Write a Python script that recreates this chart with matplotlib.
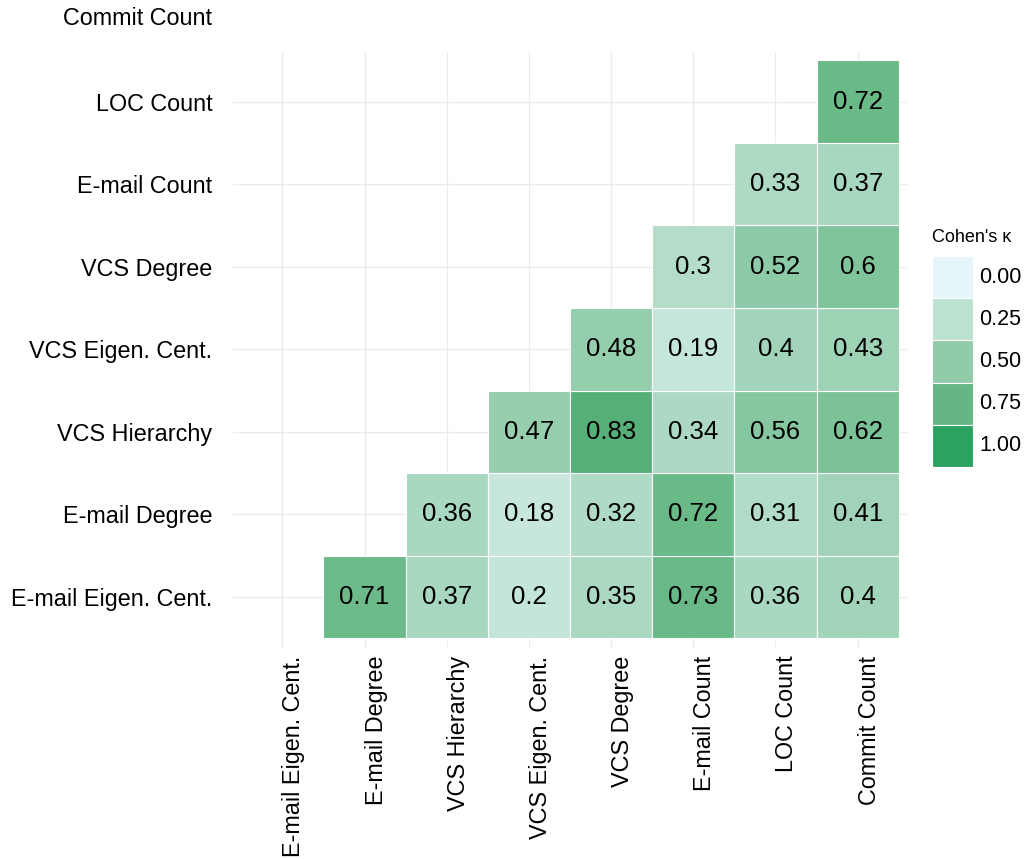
import numpy as np
import matplotlib
matplotlib.use("Agg")
import matplotlib.pyplot as plt
from matplotlib.patches import Rectangle
from matplotlib.transforms import blended_transform_factory

plt.rcParams['font.family'] = ['Liberation Sans', 'DejaVu Sans']

# Measures, in axis order (x left-to-right, y bottom-to-top)
measures = ["E-mail Eigen. Cent.", "E-mail Degree", "VCS Hierarchy",
            "VCS Eigen. Cent.", "VCS Degree", "E-mail Count",
            "LOC Count", "Commit Count"]

# Pairwise Cohen's kappa, one list per row (row measure index -> values for
# columns row+1 .. last)
kappa_email_eigen = [0.71, 0.37, 0.2, 0.35, 0.73, 0.36, 0.4]
kappa_email_degree = [0.36, 0.18, 0.32, 0.72, 0.31, 0.41]
kappa_vcs_hierarchy = [0.47, 0.83, 0.34, 0.56, 0.62]
kappa_vcs_eigen = [0.48, 0.19, 0.4, 0.43]
kappa_vcs_degree = [0.3, 0.52, 0.6]
kappa_email_count = [0.33, 0.37]
kappa_loc_count = [0.72]

rows = [kappa_email_eigen, kappa_email_degree, kappa_vcs_hierarchy,
        kappa_vcs_eigen, kappa_vcs_degree, kappa_email_count, kappa_loc_count]

legend_breaks = [0.00, 0.25, 0.50, 0.75, 1.00]
low_color = "#e5f5f9"
high_color = "#2ca25f"


# --- colour ramp interpolated in CIELAB ---------------------------------
def hex_to_rgb(h):
    h = h.lstrip('#')
    return np.array([int(h[i:i + 2], 16) / 255 for i in (0, 2, 4)])


M = np.array([[0.4124564, 0.3575761, 0.1804375],
              [0.2126729, 0.7151522, 0.0721750],
              [0.0193339, 0.1191920, 0.9503041]])
WHITE = np.array([0.95047, 1.0, 1.08883])


def rgb_to_lab(rgb):
    lin = np.where(rgb <= 0.04045, rgb / 12.92, ((rgb + 0.055) / 1.055) ** 2.4)
    xyz = M @ lin / WHITE
    f = np.where(xyz > (6 / 29) ** 3, np.cbrt(xyz), xyz / (3 * (6 / 29) ** 2) + 4 / 29)
    return np.array([116 * f[1] - 16, 500 * (f[0] - f[1]), 200 * (f[1] - f[2])])


def lab_to_rgb(lab):
    fy = (lab[0] + 16) / 116
    fx = fy + lab[1] / 500
    fz = fy - lab[2] / 200
    f = np.array([fx, fy, fz])
    xyz = np.where(f > 6 / 29, f ** 3, 3 * (6 / 29) ** 2 * (f - 4 / 29)) * WHITE
    lin = np.linalg.solve(M, xyz)
    lin = np.clip(lin, 0, 1)
    rgb = np.where(lin <= 0.0031308, 12.92 * lin, 1.055 * lin ** (1 / 2.4) - 0.055)
    return np.clip(rgb, 0, 1)


LAB_LO = rgb_to_lab(hex_to_rgb(low_color))
LAB_HI = rgb_to_lab(hex_to_rgb(high_color))


def kappa_color(v):
    return lab_to_rgb(LAB_LO + (LAB_HI - LAB_LO) * v)


# --- figure ---------------------------------------------------------------
W, H = 1027, 859
fig = plt.figure(figsize=(W / 100, H / 100), dpi=100)
ax = fig.add_axes([233 / W, 1 - 646.5 / H, (907 - 233) / W, (646.5 - 52) / H])

n = len(measures)
ax.set_xlim(-0.6, n - 1 + 0.6)
ax.set_ylim(-0.6, n - 2 + 0.6)

# grid
for i in range(n):
    ax.axvline(i, color="#ebebeb", lw=0.9, zorder=0)
for j in range(n - 1):
    ax.axhline(j, color="#ebebeb", lw=0.9, zorder=0)

# tiles
for r, vals in enumerate(rows):
    for k, v in enumerate(vals):
        c = r + 1 + k
        ax.add_patch(Rectangle((c - 0.5, r - 0.5), 1, 1, facecolor=kappa_color(v),
                               edgecolor="white", lw=0.8, zorder=2))
        ax.text(c, r, f"{v:g}", ha="center", va="center", fontsize=18.5,
                color="black", zorder=3)

for s in ax.spines.values():
    s.set_visible(False)

tick_fs = 16.8
ax.set_xticks(range(n))
ax.set_xticklabels(measures, rotation=90, ha="left", va="top", fontsize=tick_fs)
ax.set_yticks(range(n - 1))
ax.set_yticklabels(measures[:-1], fontsize=tick_fs)
ax.tick_params(axis="both", length=0)
ax.tick_params(axis="y", pad=15)
ax.tick_params(axis="x", pad=6.5)

# topmost measure label sits above the panel
ax.annotate(measures[-1], xy=(0, n - 1), xycoords=blended_transform_factory(ax.transAxes, ax.transData),
            xytext=(-15, 0), textcoords="offset points", ha="right", va="center",
            fontsize=tick_fs, annotation_clip=False)

# --- legend ---------------------------------------------------------------
lx0, lx1 = 932, 972.5
ly0, ly1 = 256, 467
lax = fig.add_axes([lx0 / W, 1 - ly1 / H, (lx1 - lx0) / W, (ly1 - ly0) / H])
nb = len(legend_breaks)
lax.set_xlim(0, 1)
lax.set_ylim(nb, 0)
lax.axis("off")
for i, b in enumerate(legend_breaks):
    lax.add_patch(Rectangle((0, i), 1, 1, facecolor=kappa_color(b),
                            edgecolor="white", lw=0.8))
    lax.text(1.17, i + 0.5, f"{b:.2f}", ha="left", va="center", fontsize=15.5)
fig.text(lx0 / W, 1 - 238 / H, "Cohen's κ", ha="left", va="center", fontsize=13)

fig.savefig("out.png", dpi=100)
